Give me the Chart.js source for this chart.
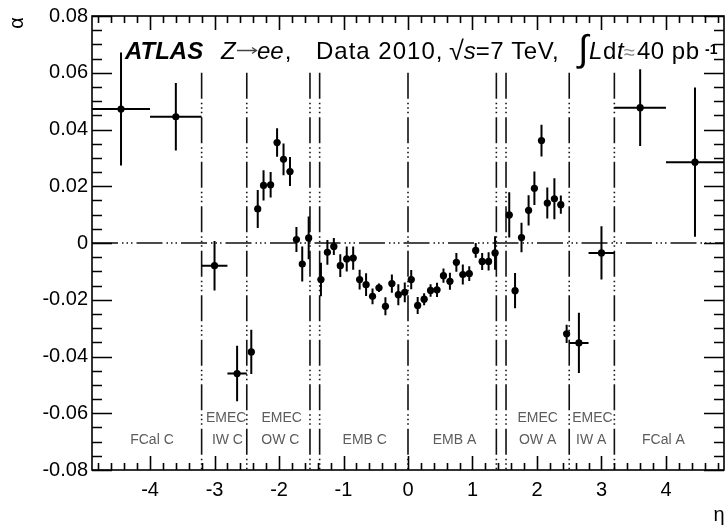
<!DOCTYPE html>
<html lang="en">
<head>
    <meta charset="UTF-8">
    <title>Energy scale alpha vs eta</title>
    <script src="https://cdn.jsdelivr.net/npm/chart.js"></script>
    <style>
        body { margin: 0; background: #fff; }
        #wrap { width: 728px; height: 527px; }
    </style>
</head>
<body>
    <div id="wrap"><canvas id="alphaChart" width="728" height="527"></canvas></div>
    <script>
        // Bin centres in eta and their half widths
        const etaCentres = [
            -4.45, -3.6,
            -3.0, -2.65,
            -2.43, -2.33, -2.24, -2.13, -2.03, -1.93, -1.83, -1.73, -1.64, -1.54,
            -1.35, -1.25, -1.15, -1.05, -0.95, -0.85, -0.75, -0.65, -0.55, -0.45, -0.35, -0.25, -0.15, -0.05,
            0.05, 0.15, 0.25, 0.35, 0.45, 0.55, 0.65, 0.75, 0.85, 0.95, 1.05, 1.15, 1.25, 1.35,
            1.57, 1.66, 1.76, 1.87, 1.96, 2.07, 2.16, 2.27, 2.37, 2.46,
            2.65, 3.0,
            3.6, 4.45
        ];
        const etaHalfWidths = [
            0.45, 0.4,
            0.2, 0.15,
            0.05, 0.05, 0.05, 0.05, 0.05, 0.05, 0.05, 0.05, 0.05, 0.05,
            0.05, 0.05, 0.05, 0.05, 0.05, 0.05, 0.05, 0.05, 0.05, 0.05, 0.05, 0.05, 0.05, 0.05,
            0.05, 0.05, 0.05, 0.05, 0.05, 0.05, 0.05, 0.05, 0.05, 0.05, 0.05, 0.05, 0.05, 0.05,
            0.05, 0.05, 0.05, 0.05, 0.05, 0.05, 0.05, 0.05, 0.05, 0.05,
            0.15, 0.2,
            0.4, 0.45
        ];
        // Energy scale correction alpha and its uncertainty
        const alphaValues = [
            0.0472, 0.0445,
            -0.0080, -0.0460,
            -0.0384, 0.0120, 0.0203, 0.0205, 0.0354, 0.0295, 0.0252, 0.0012, -0.0074, 0.0018,
            -0.0129, -0.0033, -0.0012, -0.0080, -0.0056, -0.0053, -0.0129, -0.0147, -0.0188, -0.0158, -0.0223, -0.0143, -0.0182, -0.0174,
            -0.0129, -0.0220, -0.0198, -0.0167, -0.0165, -0.0115, -0.0135, -0.0068, -0.0111, -0.0108, -0.0026, -0.0065, -0.0065, -0.0035,
            0.0099, -0.0168, 0.0019, 0.0115, 0.0193, 0.0361, 0.0141, 0.0156, 0.0135, -0.0320,
            -0.0352, -0.0035,
            0.0477, 0.0285
        ];
        const alphaErrors = [
            0.0199, 0.0119,
            0.0087, 0.0098,
            0.0078, 0.0067, 0.0053, 0.0045, 0.0050, 0.0056, 0.0051, 0.0044, 0.0062, 0.0075,
            0.0059, 0.0044, 0.0030, 0.0040, 0.0044, 0.0041, 0.0035, 0.0040, 0.0028, 0.0015, 0.0032, 0.0032, 0.0037, 0.0035,
            0.0034, 0.0030, 0.0021, 0.0022, 0.0025, 0.0025, 0.0030, 0.0033, 0.0035, 0.0026, 0.0026, 0.0030, 0.0032, 0.0059,
            0.0080, 0.0062, 0.0052, 0.0053, 0.0059, 0.0056, 0.0055, 0.0072, 0.0032, 0.0032,
            0.0106, 0.0094,
            0.0135, 0.0263
        ];
        // Calorimeter region boundaries
        const boundaries = [-3.2, -2.5, -1.52, -1.37, 0, 1.37, 1.52, 2.5, 3.2];
        const xTicks = [-4, -3, -2, -1, 0, 1, 2, 3, 4];
        const yTicks = [-0.08, -0.06, -0.04, -0.02, 0, 0.02, 0.04, 0.06, 0.08];

        const FONT = '"Liberation Sans", Arial, Helvetica, sans-serif';

        // ROOT-like dash pattern: long dash followed by three dots
        const ROOT_DASH = [26, 4, 1.5, 3, 1.5, 3, 1.5, 4];

        const refLines = {
            id: 'refLines',
            beforeDatasetsDraw(chart) {
                const { ctx, chartArea: a, scales: { x, y } } = chart;
                ctx.save();
                ctx.strokeStyle = '#111';
                ctx.lineWidth = 1.6;
                ctx.setLineDash(ROOT_DASH);
                const y0 = y.getPixelForValue(0);
                ctx.beginPath();
                ctx.moveTo(a.left, y0);
                ctx.lineTo(a.right, y0);
                ctx.stroke();
                boundaries.forEach(b => {
                    const px = x.getPixelForValue(b);
                    ctx.beginPath();
                    ctx.moveTo(px, y.getPixelForValue(0.06));
                    ctx.lineTo(px, a.bottom);
                    ctx.stroke();
                });
                ctx.restore();

                // region names
                ctx.save();
                ctx.fillStyle = '#5c5c5c';
                ctx.font = '14px ' + FONT;
                ctx.textAlign = 'center';
                ctx.textBaseline = 'middle';
                const names = [
                    ['FCal C', -3.97, 440], ['EMEC', -2.82, 418], ['IW C', -2.8, 440],
                    ['EMEC', -1.96, 418], ['OW C', -1.98, 440], ['EMB C', -0.67, 440],
                    ['EMB A', 0.72, 440], ['EMEC', 2.01, 418], ['OW A', 2.01, 440],
                    ['EMEC', 2.86, 418], ['IW A', 2.84, 440], ['FCal A', 3.96, 440]
                ];
                names.forEach(([t, eta, py]) => ctx.fillText(t, x.getPixelForValue(eta), py));
                ctx.restore();
            }
        };

        const errorBars = {
            id: 'errorBars',
            beforeDatasetsDraw(chart) {
                const { ctx, scales: { x, y } } = chart;
                ctx.save();
                ctx.strokeStyle = '#000';
                ctx.lineWidth = 2;
                etaCentres.forEach((eta, i) => {
                    const px = x.getPixelForValue(eta);
                    const py = y.getPixelForValue(alphaValues[i]);
                    ctx.beginPath();
                    ctx.moveTo(x.getPixelForValue(eta - etaHalfWidths[i]), py);
                    ctx.lineTo(x.getPixelForValue(eta + etaHalfWidths[i]), py);
                    ctx.moveTo(px, y.getPixelForValue(alphaValues[i] - alphaErrors[i]));
                    ctx.lineTo(px, y.getPixelForValue(alphaValues[i] + alphaErrors[i]));
                    ctx.stroke();
                });
                ctx.restore();
            }
        };

        // frame with inward ticks on all four sides, plus titles
        const frame = {
            id: 'frame',
            afterDraw(chart) {
                const { ctx, chartArea: a, scales: { x, y } } = chart;
                ctx.save();
                ctx.strokeStyle = '#000';
                ctx.lineWidth = 1.6;
                ctx.strokeRect(a.left, a.top, a.right - a.left, a.bottom - a.top);
                ctx.beginPath();
                for (let k = -24; k <= 24; k++) {
                    const px = Math.round(x.getPixelForValue(k / 5)) + 0.5;
                    const len = k % 5 === 0 ? 14 : 7;
                    ctx.moveTo(px, a.bottom); ctx.lineTo(px, a.bottom - len);
                    ctx.moveTo(px, a.top); ctx.lineTo(px, a.top + len);
                }
                for (let k = -16; k <= 16; k++) {
                    const py = Math.round(y.getPixelForValue(k / 200)) + 0.5;
                    const len = k % 4 === 0 ? 20 : 10;
                    ctx.moveTo(a.left, py); ctx.lineTo(a.left + len, py);
                    ctx.moveTo(a.right, py); ctx.lineTo(a.right - len, py);
                }
                ctx.stroke();

                // axis titles
                ctx.fillStyle = '#000';
                ctx.font = '20px ' + FONT;
                ctx.textAlign = 'center';
                ctx.textBaseline = 'middle';
                ctx.fillText('\u03b7', 719, 515);
                ctx.save();
                ctx.translate(17, 23);
                ctx.rotate(-Math.PI / 2);
                ctx.fillText('\u03b1', 0, 0);
                ctx.restore();

                // header line, pieces placed from a left anchor
                ctx.textAlign = 'left';
                ctx.textBaseline = 'alphabetic';
                const base = 59;
                const reg = '24px ' + FONT, it = 'italic 24px ' + FONT;
                const put = (t, px, f, dy = 0, sp = 0) => {
                    ctx.font = f;
                    ctx.letterSpacing = sp + 'px';
                    ctx.fillText(t, px, base + dy);
                    const w = ctx.measureText(t).width;
                    ctx.letterSpacing = '0px';
                    return px + w;
                };
                put('ATLAS', 125, 'italic bold 24px ' + FONT);
                put('Z', 221, it);
                // arrow
                ctx.save();
                ctx.strokeStyle = '#444';
                ctx.lineWidth = 1.3;
                ctx.beginPath();
                ctx.moveTo(237, base - 8.5); ctx.lineTo(256, base - 8.5);
                ctx.moveTo(252, base - 11.5); ctx.lineTo(256.5, base - 8.5); ctx.lineTo(252, base - 5.5);
                ctx.stroke();
                ctx.restore();
                let cx = put('ee', 257, it);
                put(',', cx + 1, reg);
                put('Data 2010,', 316, reg, 0, 1);
                cx = put('\u221a', 449, '27px ' + FONT, 1);
                cx = put('s', cx, it);
                put('=7 TeV,', cx, reg, 0, 0.5);
                put('\u222b', 578, '37px ' + FONT, 2);
                put('L', 589, it);
                put('d', 603, reg);
                put('t', 617, it);
                ctx.fillStyle = '#8a8a8a';
                put('\u2248', 624, '20px ' + FONT);
                ctx.fillStyle = '#000';
                put('40 pb', 637, reg, 0, 0.5);
                put('-1', 705, 'bold 14px ' + FONT, -5);
                ctx.restore();
            }
        };

        const ctx = document.getElementById('alphaChart').getContext('2d');
        new Chart(ctx, {
            type: 'scatter',
            data: {
                datasets: [{
                    data: etaCentres.map((eta, i) => ({ x: eta, y: alphaValues[i] })),
                    pointRadius: 3.6,
                    pointBackgroundColor: '#000',
                    pointBorderColor: '#000',
                    pointBorderWidth: 0,
                    showLine: false,
                    clip: false
                }]
            },
            options: {
                responsive: false,
                animation: false,
                devicePixelRatio: 1,
                layout: { padding: { top: 15, right: 3, left: 0, bottom: 0 } },
                plugins: { legend: { display: false }, tooltip: { enabled: false } },
                scales: {
                    x: {
                        type: 'linear',
                        min: -4.9,
                        max: 4.9,
                        afterBuildTicks: s => { s.ticks = xTicks.map(v => ({ value: v })); },
                        afterFit: s => { s.height = 57; },
                        grid: { display: false, drawTicks: false },
                        border: { display: false },
                        ticks: {
                            color: '#000',
                            padding: 8,
                            font: { family: FONT, size: 20 },
                            callback: v => String(v)
                        }
                    },
                    y: {
                        type: 'linear',
                        min: -0.08,
                        max: 0.08,
                        afterBuildTicks: s => { s.ticks = yTicks.map(v => ({ value: v })); },
                        afterFit: s => { s.width = 92; },
                        grid: { display: false, drawTicks: false },
                        border: { display: false },
                        ticks: {
                            color: '#000',
                            padding: 4,
                            font: { family: FONT, size: 20 },
                            callback: v => (Math.abs(v) < 1e-9 ? '0' : v.toFixed(2))
                        }
                    }
                }
            },
            plugins: [refLines, errorBars, frame]
        });
    </script>
</body>
</html>
